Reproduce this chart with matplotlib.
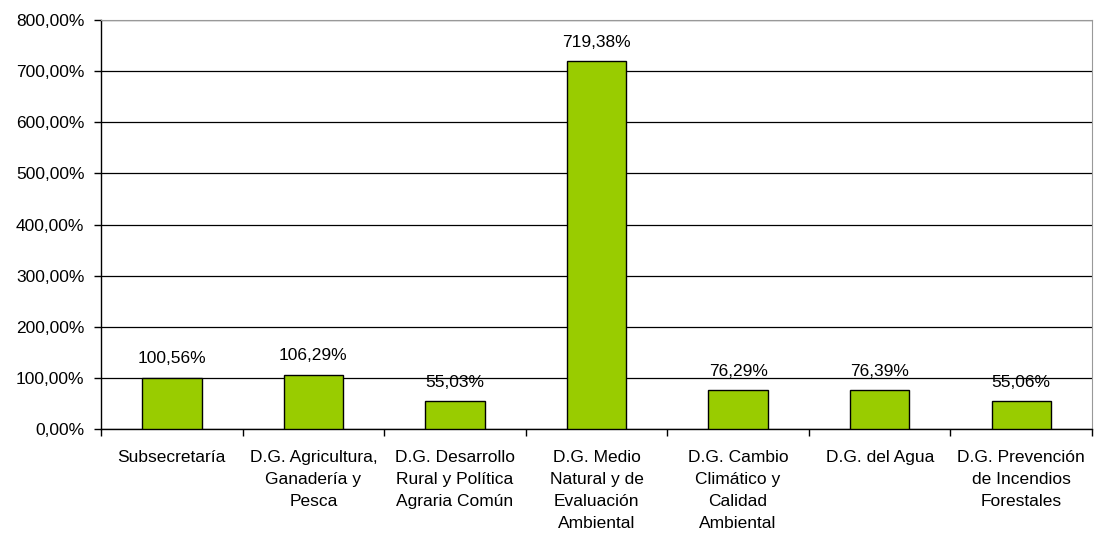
import matplotlib.pyplot as plt
import numpy as np
from matplotlib.ticker import FuncFormatter, MultipleLocator

plt.rcParams['font.family'] = ['Liberation Sans', 'DejaVu Sans']

categories = [
    "Subsecretaría",
    "D.G. Agricultura,\nGanadería y\nPesca",
    "D.G. Desarrollo\nRural y Política\nAgraria Común",
    "D.G. Medio\nNatural y de\nEvaluación\nAmbiental",
    "D.G. Cambio\nClimático y\nCalidad\nAmbiental",
    "D.G. del Agua",
    "D.G. Prevención\nde Incendios\nForestales",
]
values = [100.56, 106.29, 55.03, 719.38, 76.29, 76.39, 55.06]


def pct(v, pos=None):
    return f"{v:,.2f}%".replace(",", "X").replace(".", ",").replace("X", ".")


fig = plt.figure(figsize=(10.96, 5.41), dpi=100)
ax = fig.add_axes([0.0922, 0.207, 0.9042, 0.756])

x = np.arange(len(categories))
bars = ax.bar(x, values, width=0.42, color="#99CC00", edgecolor="black",
              linewidth=1.0, zorder=3)

fs = 12.5
for xi, v in zip(x, values):
    ax.text(xi, v + 22, pct(v), ha="center", va="bottom", fontsize=fs)

ax.set_xlim(-0.5, len(categories) - 0.5)
ax.set_ylim(0, 800)
ax.yaxis.set_major_locator(MultipleLocator(100))
ax.yaxis.set_major_formatter(FuncFormatter(pct))
ax.grid(axis="y", color="black", linewidth=0.9, zorder=0)

ax.set_xticks(x)
ax.set_xticklabels(categories, fontsize=fs, linespacing=1.6)
ax.tick_params(axis="x", which="major", length=0, pad=15)
ax.set_xticks(np.arange(-0.5, len(categories)), minor=True)
ax.tick_params(axis="x", which="minor", length=5, width=1, direction="out")
ax.tick_params(axis="y", length=5, width=1, labelsize=fs, direction="out", pad=7)

for side in ["top", "right"]:
    ax.spines[side].set_color("#999999")
for side in ["left", "bottom"]:
    ax.spines[side].set_color("black")
    ax.spines[side].set_linewidth(1.0)

plt.savefig("out.png", dpi=100)
